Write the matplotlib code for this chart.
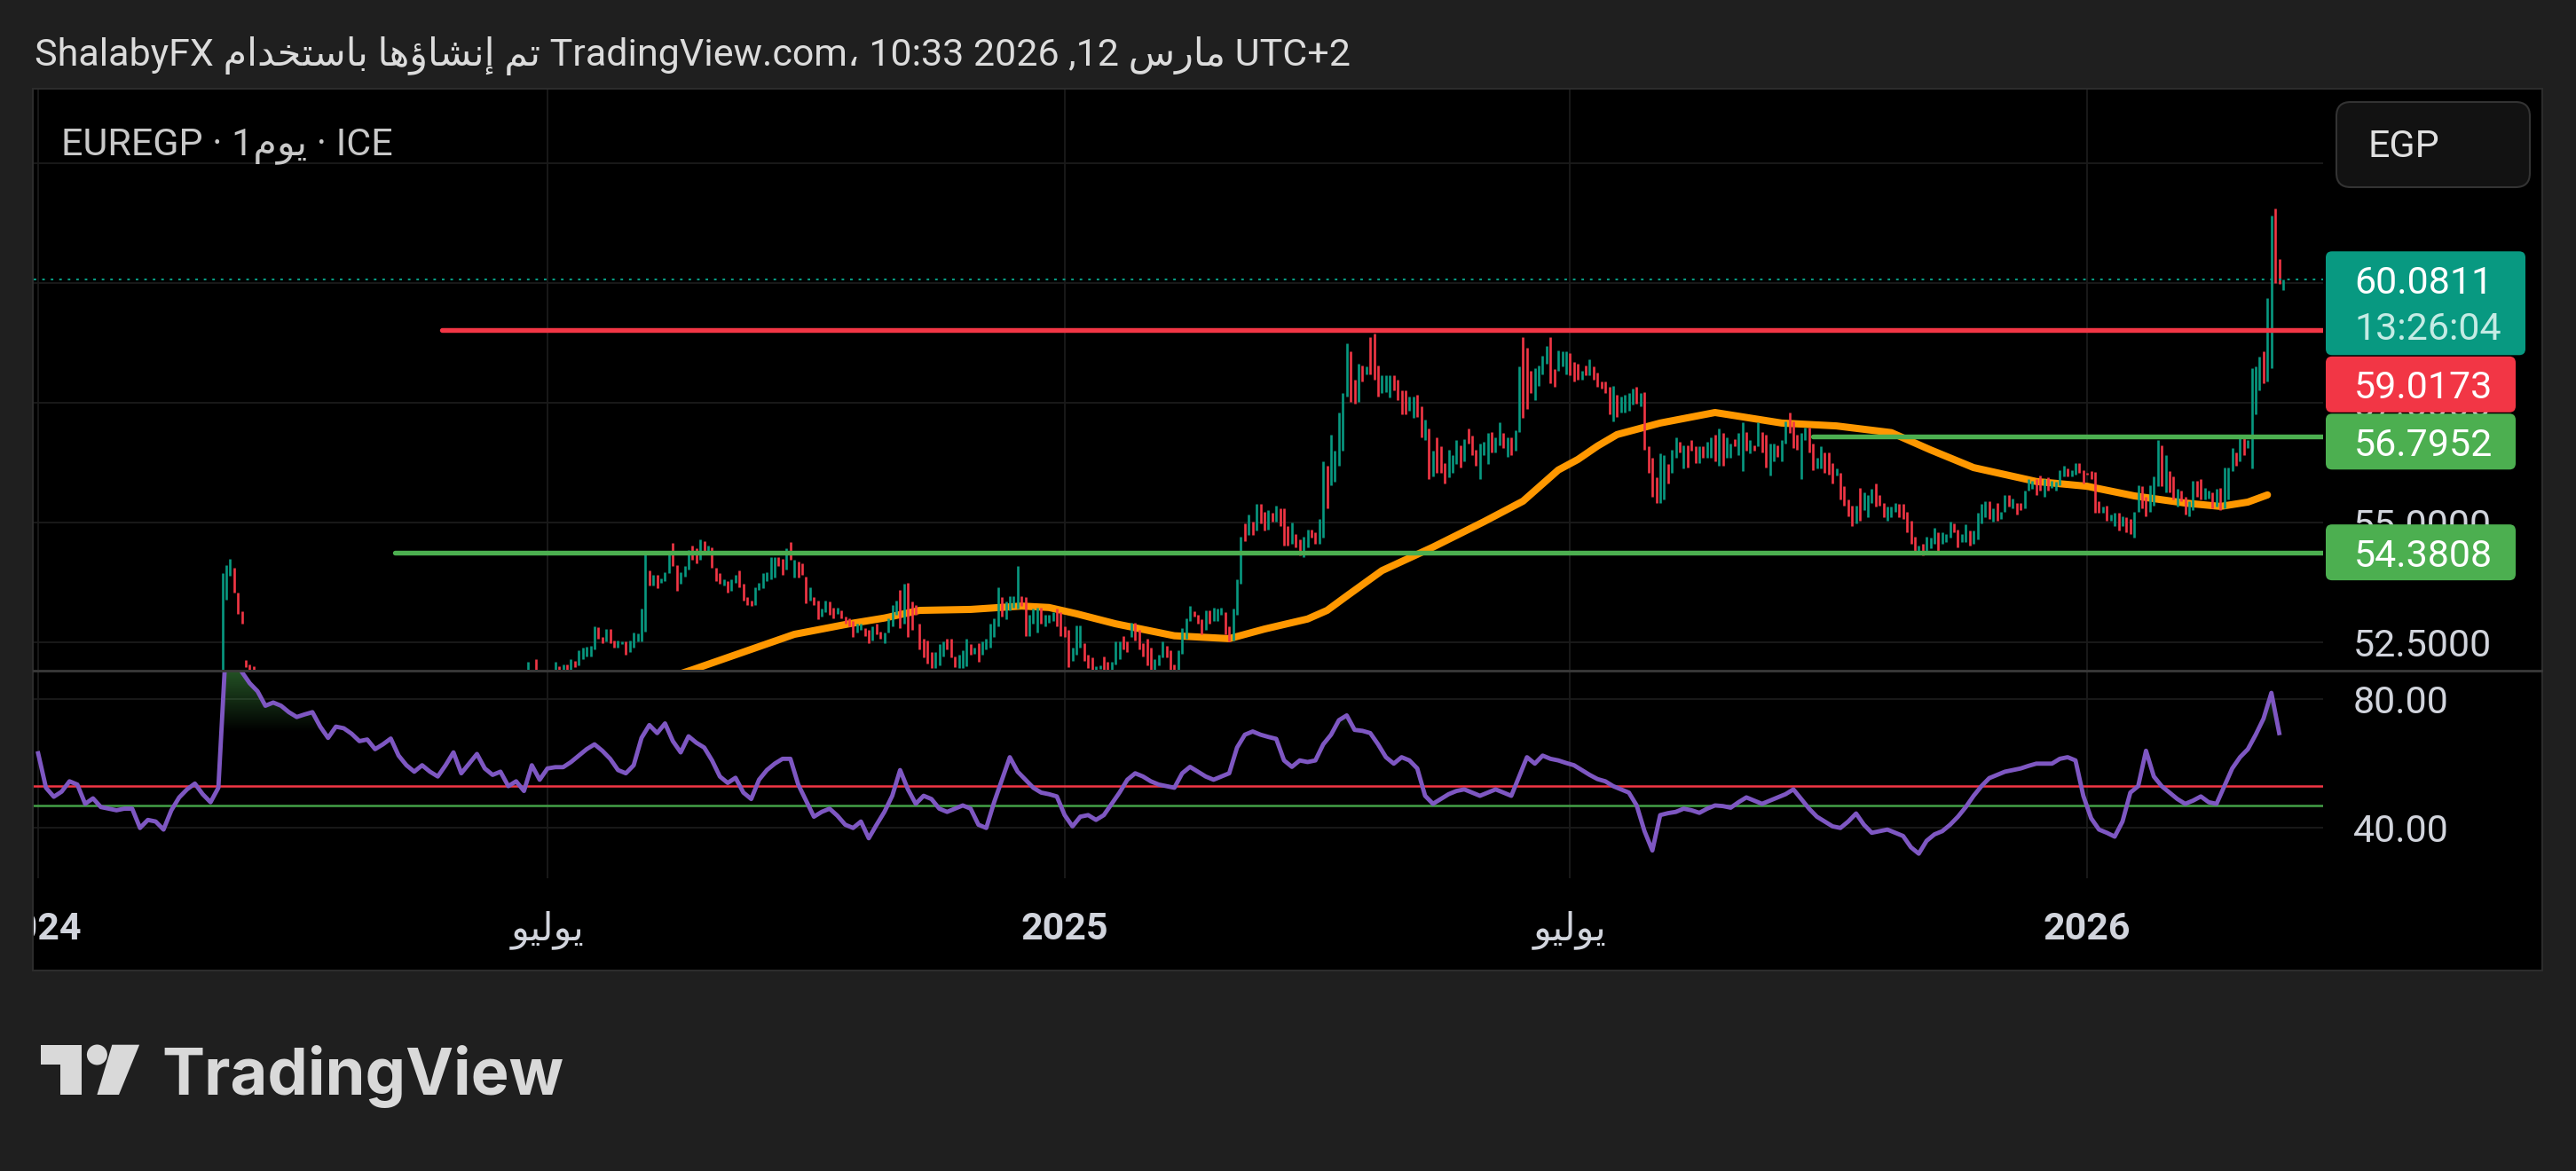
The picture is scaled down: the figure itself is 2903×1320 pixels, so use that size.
import numpy as np
import pandas as pd
import matplotlib
matplotlib.use("Agg")
import matplotlib.pyplot as plt
from matplotlib.patches import Rectangle, Polygon, Circle, FancyBboxPatch
from matplotlib.path import Path
from matplotlib.transforms import IdentityTransform

# -----------------------------------------------------------------------------
# Arabic shaping: matplotlib has no text shaping, so the Arabic words are
# turned into presentation forms and written in visual (left to right) order.
FORMS = {  # isolated, final, initial, medial
    'ا': ('\uFE8D', '\uFE8E', None, None),
    'إ': ('\uFE87', '\uFE88', None, None),
    'ؤ': ('\uFE85', '\uFE86', None, None),
    'ب': ('\uFE8F', '\uFE90', '\uFE91', '\uFE92'),
    'ت': ('\uFE95', '\uFE96', '\uFE97', '\uFE98'),
    'خ': ('\uFEA5', '\uFEA6', '\uFEA7', '\uFEA8'),
    'د': ('\uFEA9', '\uFEAA', None, None),
    'ر': ('\uFEAD', '\uFEAE', None, None),
    'س': ('\uFEB1', '\uFEB2', '\uFEB3', '\uFEB4'),
    'ش': ('\uFEB5', '\uFEB6', '\uFEB7', '\uFEB8'),
    'ل': ('\uFEDD', '\uFEDE', '\uFEDF', '\uFEE0'),
    'م': ('\uFEE1', '\uFEE2', '\uFEE3', '\uFEE4'),
    'ن': ('\uFEE5', '\uFEE6', '\uFEE7', '\uFEE8'),
    'ه': ('\uFEE9', '\uFEEA', '\uFEEB', '\uFEEC'),
    'و': ('\uFEED', '\uFEEE', None, None),
    'ي': ('\uFEF1', '\uFEF2', '\uFEF3', '\uFEF4'),
}


def shape(word):
    if not any(ch in FORMS for ch in word):
        return word
    out = []
    for i, ch in enumerate(word):
        f = FORMS[ch]
        prev_joins = i > 0 and FORMS[word[i - 1]][2] is not None
        next_joins = i < len(word) - 1 and f[2] is not None
        if prev_joins and next_joins:
            out.append(f[3])
        elif prev_joins:
            out.append(f[1])
        elif next_joins:
            out.append(f[2])
        else:
            out.append(f[0])
    return ''.join(reversed(out))


# -----------------------------------------------------------------------------
# Data (EUR/EGP, daily bars)
first_day = "2024-01-01"
last_day = "2026-03-12"

# devaluation spike, March 2024
spike_start = "2024-03-06"
spike_open = [33.95, 53.40, 53.90, 54.06, 53.55, 53.15, 52.14, 52.05, 52.00]
spike_close = [53.95, 54.12, 54.25, 53.55, 53.10, 52.90, 51.99, 51.90, 51.85]

# main run of candles from late June 2024 to the last bar
main_start = "2024-06-24"
opens = [
    51.80, 51.90, 52.15, 51.80, 51.70, 51.85, 51.80, 51.85, 52.00, 51.90,
    52.05, 51.90, 52.12, 52.02, 52.15, 52.21, 52.21, 52.36, 52.81, 52.61,
    52.52, 52.78, 52.55, 52.40, 52.46, 52.52, 52.30, 52.40, 52.52, 52.52,
    52.73, 54.00, 53.69, 53.91, 53.75, 53.78, 53.94, 54.57, 54.12, 53.72,
    53.88, 54.03, 54.52, 54.46, 54.22, 54.62, 54.37, 54.49, 54.06, 53.94,
    53.69, 53.78, 53.57, 53.75, 54.00, 53.72, 53.44, 53.37, 53.29, 53.60,
    53.63, 53.78, 53.81, 53.85, 54.28, 54.25, 54.03, 54.59, 53.85, 54.18,
    54.15, 53.88, 53.38, 53.44, 53.38, 53.04, 53.13, 53.35, 53.23, 53.10,
    53.17, 53.04, 53.01, 52.95, 52.70, 52.77, 52.80, 52.77, 52.55, 52.89,
    52.73, 52.49, 52.70, 52.83, 53.07, 53.60, 52.89, 53.75, 53.35, 53.29,
    52.89, 52.58, 52.55, 52.30, 51.96, 52.02, 52.21, 52.58, 52.58, 52.21,
    51.96, 51.96, 52.00, 52.46, 52.27, 52.49, 52.24, 52.36, 52.40, 52.61,
    52.83, 53.44, 52.98, 53.17, 53.23, 53.20, 53.47, 53.44, 52.64, 52.89,
    52.70, 53.23, 52.83, 52.92, 52.95, 53.20, 53.13, 52.83, 52.77, 52.12,
    52.24, 52.40, 52.49, 52.24, 52.18, 51.90, 51.95, 52.21, 52.09, 51.90,
    52.05, 52.15, 52.64, 52.52, 52.61, 52.92, 52.77, 52.49, 52.58, 52.40,
    51.90, 52.02, 52.18, 52.43, 52.33, 52.05, 51.90, 52.27, 52.58, 52.95,
    53.15, 53.07, 52.98, 52.77, 53.17, 52.95, 52.95, 53.07, 53.14, 52.83,
    52.55, 53.07, 53.72, 54.99, 54.74, 55.02, 54.83, 55.39, 55.23, 54.86,
    55.20, 55.02, 55.30, 55.30, 54.93, 54.56, 54.77, 54.65, 54.28, 54.49,
    54.86, 54.80, 54.56, 54.68, 56.19, 55.79, 55.85, 56.19, 56.50, 57.64,
    58.57, 57.98, 57.52, 58.29, 58.10, 58.88, 58.94, 58.29, 57.70, 57.73,
    57.61, 58.07, 57.98, 57.77, 57.77, 57.33, 57.18, 57.67, 57.43, 56.72,
    56.96, 55.97, 56.78, 56.59, 56.25, 55.94, 56.04, 56.22, 56.62, 56.28,
    56.96, 56.81, 56.53, 55.91, 56.41, 56.22, 56.90, 56.47, 56.62, 56.87,
    56.38, 56.78, 56.50, 56.90, 58.88, 58.66, 58.17, 57.55, 57.86, 58.10,
    58.32, 58.88, 58.20, 58.17, 58.26, 58.10, 58.54, 58.35, 58.32, 57.98,
    58.29, 58.07, 58.26, 58.14, 57.95, 57.95, 57.83, 57.12, 57.67, 57.30,
    57.30, 57.33, 57.46, 57.83, 57.43, 57.73, 56.59, 56.35, 55.94, 55.42,
    55.48, 56.22, 56.04, 56.35, 56.68, 56.13, 56.62, 56.72, 56.59, 56.25,
    56.59, 56.35, 56.35, 56.84, 56.19, 56.87, 56.35, 56.35, 56.75, 56.41,
    56.07, 56.90, 56.44, 56.62, 56.59, 56.90, 56.84, 55.98, 56.28, 56.62,
    56.28, 56.65, 57.30, 57.12, 56.84, 55.91, 56.72, 56.99, 56.65, 56.13,
    56.13, 56.47, 56.47, 56.25, 55.98, 56.04, 55.76, 55.48, 55.36, 54.99,
    55.73, 55.27, 55.11, 55.42, 55.82, 55.57, 55.42, 55.05, 55.11, 55.23,
    55.39, 55.39, 55.23, 55.05, 54.71, 54.37, 54.56, 54.34, 54.46, 54.56,
    54.80, 54.56, 54.59, 54.68, 54.99, 54.86, 54.59, 54.59, 54.83, 54.56,
    54.65, 54.99, 55.11, 55.45, 55.02, 55.42, 55.08, 55.23, 55.57, 55.30,
    55.42, 55.42, 55.30, 55.67, 55.70, 55.91, 55.98, 55.54, 55.94, 55.73,
    55.67, 55.79, 55.97, 56.13, 55.97, 56.01, 56.25, 56.10, 56.04, 56.07,
    56.05, 55.45, 55.20, 55.36, 55.05, 54.93, 55.20, 54.93, 55.11, 55.08,
    54.68, 55.23, 55.76, 55.54, 55.23, 55.36, 55.76, 56.62, 55.64, 56.07,
    55.97, 55.33, 55.67, 55.54, 55.14, 55.27, 55.88, 55.91, 55.48, 55.51,
    55.64, 55.33, 55.73, 55.30, 55.48, 56.07, 56.47, 56.28, 56.78, 56.56,
    56.13, 57.27, 57.76, 58.57, 57.95, 58.23, 61.56, 60.51, 59.85,
]
closes = [
    52.09, 51.75, 51.80, 51.70, 51.85, 51.80, 51.90, 52.09, 51.93, 52.05,
    51.90, 52.15, 51.99, 52.33, 52.40, 52.41, 52.43, 52.83, 52.58, 52.49,
    52.78, 52.49, 52.40, 52.55, 52.53, 52.25, 52.55, 52.70, 52.68, 53.20,
    54.34, 53.69, 53.91, 53.63, 53.84, 53.97, 54.34, 54.09, 53.57, 53.97,
    54.09, 54.43, 54.22, 54.15, 54.65, 54.37, 54.52, 54.06, 53.78, 53.72,
    53.81, 53.54, 53.81, 53.91, 53.66, 53.38, 53.29, 53.26, 53.66, 53.75,
    53.94, 53.97, 54.28, 54.28, 54.09, 53.91, 54.46, 54.22, 54.22, 53.85,
    53.91, 53.32, 53.66, 53.29, 52.98, 53.20, 53.38, 53.07, 53.01, 53.23,
    53.01, 52.89, 52.83, 52.61, 52.89, 52.89, 52.64, 52.49, 52.83, 52.67,
    52.58, 52.70, 53.01, 53.29, 53.38, 52.80, 53.72, 52.61, 52.77, 53.07,
    52.36, 52.18, 52.06, 51.96, 52.30, 52.46, 52.52, 52.36, 52.18, 51.99,
    52.24, 52.33, 52.58, 52.24, 52.40, 52.09, 52.52, 52.58, 52.89, 53.01,
    53.66, 53.04, 53.35, 53.47, 53.47, 54.10, 53.26, 52.64, 53.07, 53.20,
    53.23, 52.89, 53.07, 53.07, 53.13, 52.83, 52.64, 52.61, 51.99, 52.40,
    52.86, 52.86, 52.12, 51.96, 51.90, 52.00, 52.02, 51.90, 51.90, 52.09,
    52.52, 52.52, 52.36, 52.30, 52.92, 52.55, 52.36, 52.21, 52.02, 51.90,
    52.15, 52.24, 52.52, 52.18, 51.90, 51.90, 52.33, 52.80, 53.01, 53.26,
    53.04, 52.89, 52.67, 53.17, 52.89, 53.23, 53.20, 53.23, 52.67, 52.52,
    53.20, 53.81, 54.71, 54.62, 55.17, 54.74, 55.39, 54.99, 54.83, 55.27,
    55.02, 55.36, 54.93, 54.53, 54.53, 55.00, 54.49, 54.31, 54.71, 54.86,
    54.68, 54.56, 55.08, 56.28, 55.30, 56.84, 56.50, 57.30, 57.70, 58.75,
    57.52, 57.49, 58.32, 57.95, 58.26, 58.10, 57.98, 57.64, 58.07, 58.07,
    58.07, 57.77, 57.55, 57.27, 57.27, 57.64, 57.64, 57.21, 56.78, 57.15,
    55.91, 56.50, 56.04, 56.04, 55.82, 56.53, 56.41, 56.72, 56.16, 56.75,
    56.65, 56.41, 56.19, 56.65, 56.68, 56.87, 56.47, 56.78, 57.09, 56.56,
    56.78, 56.41, 56.93, 58.26, 57.18, 57.37, 57.70, 58.23, 58.29, 58.48,
    58.69, 57.92, 57.83, 58.60, 58.57, 58.57, 58.07, 57.95, 57.98, 58.17,
    58.07, 58.41, 57.98, 57.83, 57.80, 57.70, 57.27, 57.86, 57.21, 57.64,
    57.67, 57.70, 57.80, 57.49, 57.70, 56.53, 56.04, 55.54, 55.42, 56.44,
    56.41, 55.82, 56.53, 56.78, 56.47, 56.62, 56.16, 56.50, 56.25, 56.59,
    56.35, 56.68, 56.78, 56.28, 56.96, 56.19, 56.78, 56.65, 56.59, 56.87,
    57.09, 56.50, 56.72, 56.50, 57.09, 56.47, 56.16, 56.65, 56.65, 56.38,
    56.72, 57.12, 56.87, 56.56, 56.53, 56.87, 56.99, 56.47, 56.10, 56.35,
    56.59, 56.04, 56.01, 55.82, 56.13, 55.48, 55.36, 55.14, 54.93, 55.36,
    55.05, 55.64, 55.57, 55.70, 55.33, 55.36, 55.11, 55.33, 55.33, 55.42,
    55.11, 55.08, 54.80, 54.56, 54.34, 54.53, 54.31, 54.71, 54.68, 54.89,
    54.34, 54.80, 54.77, 55.02, 54.80, 54.49, 54.77, 54.96, 54.52, 54.83,
    55.20, 55.39, 55.45, 55.08, 55.30, 55.05, 55.23, 55.57, 55.33, 55.51,
    55.17, 55.27, 55.67, 55.91, 55.88, 55.57, 55.67, 55.91, 55.67, 55.88,
    55.85, 56.10, 56.19, 55.97, 56.10, 56.25, 56.04, 55.82, 56.01, 55.91,
    55.20, 55.20, 55.33, 55.05, 55.17, 55.20, 54.83, 55.14, 54.80, 54.77,
    55.23, 55.79, 55.30, 55.14, 55.79, 55.97, 56.72, 55.76, 56.41, 55.64,
    55.48, 55.70, 55.45, 55.17, 55.45, 55.88, 55.54, 55.48, 55.73, 55.67,
    55.30, 55.70, 55.27, 56.16, 56.16, 56.56, 56.19, 56.78, 56.41, 56.72,
    58.23, 58.26, 58.47, 57.92, 59.68, 61.41, 60.00, 59.99, 60.08,
]

# orange moving average
ma_dates = [
    "2024-07-26", "2024-08-21", "2024-09-26", "2024-10-16", "2024-10-29",
    "2024-11-11", "2024-11-28", "2024-12-17", "2024-12-26", "2025-01-06",
    "2025-01-20", "2025-02-10", "2025-02-28", "2025-03-13", "2025-03-28",
    "2025-04-04", "2025-04-11", "2025-04-24", "2025-05-13", "2025-05-30",
    "2025-06-13", "2025-06-26", "2025-07-03", "2025-07-10", "2025-07-17",
    "2025-08-01", "2025-08-21", "2025-09-15", "2025-10-03", "2025-10-23",
    "2025-11-06", "2025-11-21", "2025-12-15", "2026-01-01", "2026-01-19",
    "2026-02-05", "2026-02-18", "2026-02-27", "2026-03-06",
]
ma_values = [
    51.45, 51.93, 52.67, 52.89, 53.01, 53.17, 53.19, 53.26, 53.23, 53.10,
    52.89, 52.64, 52.58, 52.78, 52.99, 53.17, 53.47, 54.00, 54.49, 55.02,
    55.45, 56.10, 56.32, 56.60, 56.84, 57.08, 57.30, 57.08, 57.02, 56.88,
    56.52, 56.15, 55.86, 55.76, 55.56, 55.41, 55.34, 55.43, 55.58,
]

# RSI, one reading every second bar from the first day
rsi_values = [
    63.2, 52.5, 49.7, 51.3, 54.5, 53.5, 47.5, 49.2, 46.5, 46.0,
    45.5, 46.0, 46.0, 40.0, 42.5, 42.0, 39.5, 45.5, 49.5, 52.0,
    53.8, 50.5, 48.0, 52.5, 98.0, 94.0, 88.5, 85.0, 82.5, 78.0,
    79.0, 78.0, 76.0, 74.5, 75.3, 76.0, 71.5, 68.0, 71.5, 71.0,
    69.3, 67.0, 67.5, 64.5, 66.0, 67.8, 62.5, 59.5, 57.5, 59.5,
    57.5, 56.0, 59.5, 63.5, 57.0, 60.0, 63.0, 58.5, 56.5, 57.5,
    53.0, 54.5, 51.5, 59.5, 55.0, 58.5, 58.9, 58.9, 60.5, 62.5,
    64.5, 66.0, 64.0, 61.5, 58.0, 57.0, 59.5, 68.0, 72.0, 69.5,
    72.5, 67.0, 63.5, 68.5, 66.5, 65.0, 61.0, 56.0, 54.0, 55.6,
    51.0, 49.0, 55.0, 58.0, 60.0, 61.5, 61.5, 53.5, 48.5, 43.5,
    45.0, 46.0, 43.8, 41.0, 40.0, 42.0, 36.8, 41.0, 45.0, 50.0,
    58.0, 52.0, 47.5, 50.0, 49.0, 46.0, 45.0, 46.0, 47.0, 46.0,
    41.0, 40.0, 48.0, 55.0, 62.0, 57.5, 55.0, 52.5, 51.0, 50.5,
    49.8, 44.0, 40.5, 43.5, 44.0, 42.5, 44.0, 47.5, 51.0, 55.0,
    57.0, 56.0, 54.5, 53.5, 53.0, 52.5, 57.0, 59.0, 57.5, 56.0,
    55.0, 56.0, 57.0, 65.0, 69.0, 70.0, 69.0, 68.3, 67.7, 61.0,
    59.0, 61.0, 60.5, 61.0, 66.0, 69.0, 73.5, 75.0, 70.5, 70.2,
    69.5, 66.0, 62.0, 60.0, 62.0, 61.0, 58.5, 50.0, 47.5, 49.0,
    50.5, 51.5, 52.0, 51.0, 50.0, 51.0, 52.0, 51.0, 50.0, 56.0,
    62.0, 60.0, 62.5, 61.5, 61.0, 60.2, 59.5, 58.0, 56.5, 55.2,
    54.5, 53.0, 52.0, 51.0, 47.0, 39.0, 33.0, 44.0, 44.6, 45.0,
    46.0, 45.5, 44.7, 46.0, 47.0, 46.8, 46.3, 48.0, 49.5, 48.5,
    47.5, 48.5, 49.5, 50.5, 52.0, 49.0, 46.0, 43.5, 42.0, 40.5,
    40.0, 42.0, 44.5, 41.0, 38.5, 39.0, 39.5, 38.5, 37.5, 34.0,
    32.0, 36.0, 38.0, 39.0, 41.0, 43.5, 46.5, 50.0, 53.0, 55.5,
    56.5, 57.5, 58.0, 58.5, 59.3, 60.0, 60.0, 60.0, 61.5, 62.0,
    61.0, 50.0, 43.0, 39.5, 38.5, 37.3, 42.0, 51.0, 53.0, 64.0,
    56.0, 53.0, 51.0, 49.0, 47.5, 48.5, 49.8, 48.0, 47.5, 53.0,
    58.5, 62.0, 64.5, 69.0, 74.0, 82.0, 69.5,
]
rsi_upper = 53
rsi_lower = 47

# horizontal levels drawn on the chart
level_prices = [59.0173, 56.7952, 54.3808]
level_starts = ["2024-05-23", "2025-09-25", "2024-05-07"]
last_price = 60.0811
countdown = "13:26:04"

price_grid = [52.5, 55.0, 57.5, 60.0, 62.5]
rsi_grid = [80, 40]
time_ticks = ["2024-01-01", "2024-07-01", "2025-01-01", "2025-07-01", "2026-01-01"]
time_labels = ["2024", "يوليو", "2025", "يوليو", "2026"]

# -----------------------------------------------------------------------------
# Style
TEAL = '#089981'
RED = '#F23645'
GREEN = '#4CAF50'
ORANGE = '#FF9800'
PURPLE = '#7E57C2'
BG = '#1f1f1f'
GRID = '#1b1b1b'
TXT = '#d1d4dc'
FONT = ['Roboto', 'DejaVu Sans']
plt.rcParams['font.family'] = FONT

W, H = 2903, 1320
px = IdentityTransform()

fig = plt.figure(figsize=(W / 100, H / 100), dpi=100, facecolor=BG)

# black chart panel (behind the axes)
fig.patches.append(Rectangle((37, H - 1094), 2828, 994, transform=px,
                             facecolor='black', edgecolor='#2c2c2c', lw=1.5, zorder=-5))

ax_p = fig.add_axes([38 / W, 1 - 755 / H, 2580 / W, 654 / H])
ax_r = fig.add_axes([38 / W, 1 - 990 / H, 2580 / W, 233 / H])
ax_t = fig.add_axes([38 / W, 1 - 1092 / H, 2580 / W, 102 / H])

dates = pd.bdate_range(first_day, last_day)
xlim = (-1.13, 583.2)
for ax in (ax_p, ax_r, ax_t):
    ax.set_facecolor('black')
    ax.set_xlim(*xlim)
    ax.set_xticks([])
    ax.set_yticks([])
    for s in ax.spines.values():
        s.set_visible(False)
ax_p.set_ylim(51.93, 64.04)
ax_r.set_ylim(24.36, 88.63)
ax_t.set_ylim(0, 1)

# separator between price and RSI panes
fig.add_artist(plt.Line2D([38, 2864], [H - 756, H - 756], transform=px,
                          color='#3a3a3a', lw=2.0, zorder=5))

# grid
tick_pos = dates.get_indexer(pd.to_datetime(time_ticks))
for x in tick_pos:
    ax_p.axvline(x, color=GRID, lw=1.3, zorder=0)
    ax_r.axvline(x, color=GRID, lw=1.3, zorder=0)
for y in price_grid:
    ax_p.axhline(y, color=GRID, lw=1.3, zorder=0)
for y in rsi_grid:
    ax_r.axhline(y, color=GRID, lw=1.3, zorder=0)


# candles
def draw_candles(ax, start, o, c):
    o = np.asarray(o)
    c = np.asarray(c)
    pos = dates.get_loc(pd.Timestamp(start)) + np.arange(len(o))
    up = c >= o
    ax.vlines(pos[up], o[up], c[up], color=TEAL, lw=1.9, zorder=3)
    ax.vlines(pos[~up], o[~up], c[~up], color=RED, lw=1.9, zorder=3)


ma_pos = dates.get_indexer(pd.to_datetime(ma_dates))
ax_p.plot(ma_pos, ma_values, color=ORANGE, lw=5.8, solid_capstyle='round',
          solid_joinstyle='round', zorder=2)

draw_candles(ax_p, spike_start, spike_open, spike_close)
draw_candles(ax_p, main_start, opens, closes)

# levels
level_colors = [RED, GREEN, GREEN]
for p, st, col in zip(level_prices, level_starts, level_colors):
    x0 = dates.get_loc(pd.Timestamp(st))
    ax_p.plot([x0, xlim[1] + 20], [p, p], color=col, lw=3.9,
              solid_capstyle='round', zorder=4)
ax_p.axhline(last_price, color=TEAL, lw=1.5, ls=(0, (1.4, 3.2)), zorder=4)

# RSI pane
rsi = np.asarray(rsi_values)
rsi_pos = np.arange(len(dates))[::2][:len(rsi)]
ax_r.axhline(rsi_upper, color=RED, lw=1.8, zorder=2)
ax_r.axhline(rsi_lower, color='#43A047', lw=1.8, zorder=2)
ob = ax_r.fill_between(rsi_pos, rsi, 70, where=rsi > 70, interpolate=True,
                       facecolor='none', edgecolor='none')
grad = np.zeros((256, 1, 4))
grad[..., 0], grad[..., 1], grad[..., 2] = 0.30, 0.69, 0.31
grad[..., 3] = np.linspace(0.0, 0.75, 256)[:, None]
im = ax_r.imshow(grad, extent=(xlim[0], xlim[1], 70, 100), origin='lower',
                 aspect='auto', zorder=1, interpolation='bilinear')
im.set_clip_path(Path.make_compound_path(*ob.get_paths()), transform=ax_r.transData)
ax_r.plot(rsi_pos, rsi, color=PURPLE, lw=3.5, solid_joinstyle='round', zorder=3)
ax_r.set_xlim(*xlim)
ax_r.set_ylim(24.36, 88.63)

# time axis
for x, lab in zip(tick_pos, time_labels):
    bold = lab.isdigit()
    ax_t.text(x, 0.3235, shape(lab), ha='center', va='baseline', color=TXT,
              fontsize=31, fontweight='bold' if bold else 'normal',
              clip_on=True, family=FONT)


# -----------------------------------------------------------------------------
# price scale on the right
def ydisp(ax, v):
    return ax.transData.transform((0, v))[1]


for v in price_grid:
    fig.text(2652, ydisp(ax_p, v), f"{v:.4f}", transform=px, color=TXT,
             fontsize=31, va='center_baseline', ha='left', zorder=5)
for v in rsi_grid:
    fig.text(2652, ydisp(ax_r, v), f"{v:.2f}", transform=px, color=TXT,
             fontsize=31, va='center_baseline', ha='left', zorder=5)

tags = [(last_price, TEAL, 225, 117), (level_prices[0], RED, 214, 63),
        (level_prices[1], GREEN, 214, 63), (level_prices[2], GREEN, 214, 63)]
prev_bottom = None
for p, col, w, h in tags:
    yc = ydisp(ax_p, p)
    top = yc + 31.5
    if prev_bottom is not None and top > prev_bottom - 1.5:
        top = prev_bottom - 1.5
    box = FancyBboxPatch((2621, top - h), w, h, boxstyle='round,pad=0,rounding_size=7',
                         transform=px, facecolor=col, edgecolor='none', zorder=6)
    fig.patches.append(box)
    fig.text(2653, top - 31.5, f"{p:.4f}", transform=px, color='white',
             fontsize=31, va='center_baseline', ha='left', zorder=7)
    if h > 63:
        fig.text(2653, top - 84, countdown, transform=px, color='#c4ebe4',
                 fontsize=31, va='center_baseline', ha='left', zorder=7)
    prev_bottom = top - h

# currency box
fig.patches.append(FancyBboxPatch((2633, H - 211), 218, 96,
                                  boxstyle='round,pad=0,rounding_size=16', transform=px,
                                  facecolor='#121212', edgecolor='#333333', lw=1.5, zorder=6))
fig.text(2668, H - 161, "EGP", transform=px, color='#e0e0e0', fontsize=31,
         va='center_baseline', ha='left', zorder=7)

# -----------------------------------------------------------------------------
# texts
header = (f"ShalabyFX {shape('باستخدام')} {shape('إنشاؤها')} {shape('تم')} "
          f"TradingView.com\u060C 10:33 2026 ,12 {shape('مارس')} UTC+2")
fig.text(39, H - 74, header, transform=px, color='#dcdcdc', fontsize=31,
         va='baseline', ha='left', family=FONT)
fig.text(69, H - 174, f"EUREGP · 1{shape('يوم')} · ICE", transform=px,
         color='#c8c8c8', fontsize=31, va='baseline', ha='left', family=FONT, zorder=6)

# TradingView logo
LOGO = '#d9d9d9'
fig.patches.append(Polygon([(45.5, H - 1177.7), (91.5, H - 1177.7), (91.5, H - 1234),
                            (68, H - 1234), (68, H - 1200), (45.5, H - 1200)],
                           closed=True, transform=px, facecolor=LOGO, edgecolor='none'))
fig.patches.append(Circle((109.4, H - 1189), 11.5, transform=px, facecolor=LOGO,
                          edgecolor='none'))
fig.patches.append(Polygon([(126.3, H - 1177.7), (157.1, H - 1177.7), (134, H - 1234),
                            (109.4, H - 1234)], closed=True, transform=px,
                           facecolor=LOGO, edgecolor='none'))
fig.text(182, H - 1234, "TradingView", transform=px, color=LOGO, fontsize=52,
         fontweight='bold', family=['Inter', 'DejaVu Sans'], va='baseline', ha='left')

fig.savefig("out.png", dpi=100, facecolor=BG)
